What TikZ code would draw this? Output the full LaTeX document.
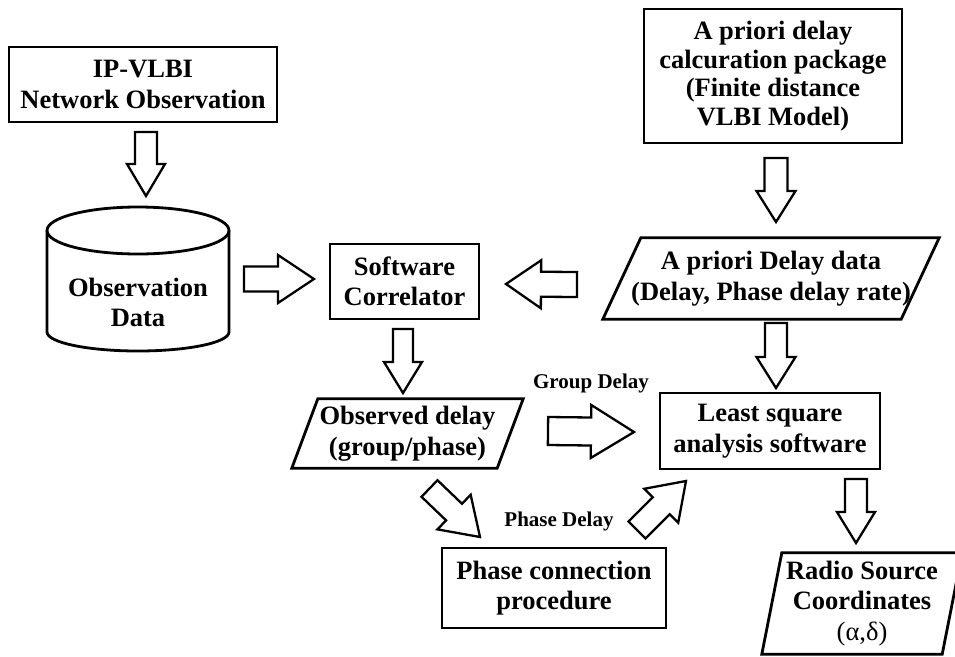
\documentclass[tikz,border=0pt]{standalone}
\usepackage{fontspec}
\setmainfont{Liberation Serif}
\usetikzlibrary{calc}
\newcommand\bigf{\fontsize{26.5}{30.5}\selectfont\bfseries}
\newcommand\calcf{\fontsize{26.5}{28.5}\selectfont\bfseries}
\newcommand\smallf{\fontsize{21}{24}\selectfont\bfseries}
\begin{document}
\begin{tikzpicture}[x=1pt,y=-1pt,
  box/.style={draw, line width=2.8pt, align=center, font=\bigf, inner sep=0pt},
  txt/.style={align=center, font=\bigf, inner sep=0pt},
  lbl/.style={font=\smallf, inner sep=0pt},
  outline/.style={draw, line width=2.8pt, line join=miter},
  ashaft/.code={\def\bsw{#1}},
  ahead/.code={\def\bhw{#1}},
  ahlen/.code={\def\bhl{#1}},
  barrow/.style={draw, line width=2.3pt, line join=miter,
    ashaft=11pt, ahead=19pt, ahlen=31pt,
    to path={
      ($(\tikztostart)!\bsw!90:(\tikztotarget)$)
      -- ($($(\tikztotarget)!\bhl!(\tikztostart)$)!\bsw!90:(\tikztotarget)$)
      -- ($($(\tikztotarget)!\bhl!(\tikztostart)$)!\bhw!90:(\tikztotarget)$)
      -- (\tikztotarget)
      -- ($($(\tikztotarget)!\bhl!(\tikztostart)$)!\bhw!-90:(\tikztotarget)$)
      -- ($($(\tikztotarget)!\bhl!(\tikztostart)$)!\bsw!-90:(\tikztotarget)$)
      -- ($(\tikztostart)!\bsw!-90:(\tikztotarget)$)
      -- cycle}}
]
\useasboundingbox (0,0) rectangle (955,656);
\clip (0,0) rectangle (955,656);

% rectangular boxes
\node[box, minimum width=268, minimum height=75] (ipv) at (143,84.5) {IP-VLBI\\Network Observation};
\node[box, font=\calcf, minimum width=258, minimum height=134] (calc) at (773,76) {A priori delay\\calcuration package\\(Finite distance\\VLBI Model)};
\node[box, minimum width=149, minimum height=75] (sc) at (404.5,281.5) {Software\\Correlator};
\node[box, minimum width=220, minimum height=76] (ls) at (770,431) {Least square\\analysis software};
\node[box, minimum width=224, minimum height=80] (pc) at (554,588) {Phase connection\\procedure};

% cylinder
\node[txt] (obs) at (138,302.5) {Observation\\Data};
\draw[outline] (138,230.5) ellipse[x radius=91pt, y radius=23.5pt];
\draw[outline] (47,230.5) -- (47,332) arc[start angle=180, end angle=360, x radius=91pt, y radius=19pt] -- (229,230.5);

% parallelograms
\node[txt, minimum width=298, minimum height=81] (apd) at (771,278.5) {A priori Delay data\\(Delay, Phase delay rate)};
\draw[outline] ([xshift=19pt]apd.north west) -- ([xshift=19pt]apd.north east) -- ([xshift=-19pt]apd.south east) -- ([xshift=-19pt]apd.south west) -- cycle;
\node[txt, minimum width=205, minimum height=69] (od) at (407.5,433.5) {Observed delay\\(group/phase)};
\draw[outline] ([xshift=13pt]od.north west) -- ([xshift=13pt]od.north east) -- ([xshift=-13pt]od.south east) -- ([xshift=-13pt]od.south west) -- cycle;
\node[txt, minimum width=180, minimum height=101] (rs) at (862,603.5) {Radio Source\\Coordinates\\{\mdseries (α,δ)}};
\draw[outline] ([xshift=10pt]rs.north west) -- ([xshift=10pt]rs.north east) -- ([xshift=-10pt]rs.south east) -- ([xshift=-10pt]rs.south west) -- cycle;

% labels
\node[lbl] (gd) at (591,383) {Group Delay};
\node[lbl] (pd) at (559,521) {Phase Delay};

% arrow end points
\coordinate (a1s) at (146,132);   \coordinate (a1e) at (146,196);
\coordinate (a2s) at (244,279);   \coordinate (a2e) at (314,279);
\coordinate (a3s) at (776,158);   \coordinate (a3e) at (776,222);
\coordinate (a4s) at (577,284.5); \coordinate (a4e) at (506,284);
\coordinate (a5s) at (403,329);   \coordinate (a5e) at (403,393);
\coordinate (a6s) at (548,431);   \coordinate (a6e) at (634,432);
\coordinate (a7s) at (776,323);   \coordinate (a7e) at (776,388);
\coordinate (a8s) at (856,479);   \coordinate (a8e) at (856,543);
\coordinate (a9s) at (429.5,488.5); \coordinate (a9e) at (480,537);
\coordinate (a10s) at (637,530);  \coordinate (a10e) at (686,481);

% block arrows
\draw[barrow, ashaft=11pt, ahead=19pt, ahlen=32pt] (a1s) to (a1e);
\draw[barrow, ashaft=12.5pt, ahead=24pt, ahlen=36pt] (a2s) to (a2e);
\draw[barrow, ashaft=11.5pt, ahead=19.5pt, ahlen=31pt] (a3s) to (a3e);
\draw[barrow, ashaft=12.5pt, ahead=24pt, ahlen=35pt] (a4s) to (a4e);
\draw[barrow, ashaft=10pt, ahead=19pt, ahlen=31pt] (a5s) to (a5e);
\draw[barrow, ashaft=14pt, ahead=26.5pt, ahlen=43pt] (a6s) to (a6e);
\draw[barrow, ashaft=11pt, ahead=19.5pt, ahlen=31pt] (a7s) to (a7e);
\draw[barrow, ashaft=11pt, ahead=19pt, ahlen=31pt] (a8s) to (a8e);
\draw[barrow, ashaft=11.5pt, ahead=24pt, ahlen=36pt] (a9s) to (a9e);
\draw[barrow, ashaft=12pt, ahead=24pt, ahlen=35pt] (a10s) to (a10e);
\end{tikzpicture}
\end{document}
